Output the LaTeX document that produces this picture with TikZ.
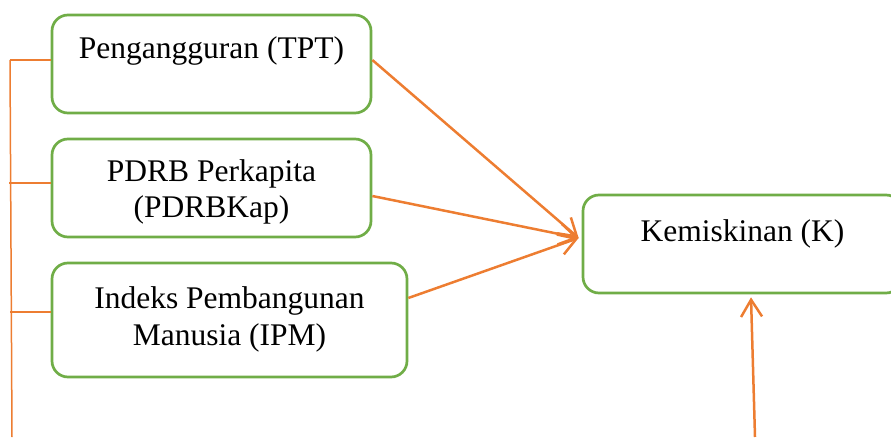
\documentclass[tikz,border=0pt]{standalone}
\usepackage{fontspec}
\setmainfont{Liberation Serif}
\usepackage{xcolor}
\usetikzlibrary{shapes,arrows,positioning,calc,arrows.meta}
\definecolor{boxgreen}{HTML}{70AD47}
\definecolor{linkorange}{HTML}{ED7D31}

\begin{document}
\begin{tikzpicture}[x=1pt, y=1pt,
    varbox/.style={draw=boxgreen, line width=2.7pt, rounded corners=16pt, align=center,
        inner sep=0pt, minimum width=319pt, minimum height=98pt,
        font=\fontsize{31.5}{36.5}\selectfont},
    link/.style={draw=linkorange, line width=2.5pt, -{Straight Barb[length=17pt,width=21pt]}},
    branch/.style={draw=linkorange, line width=1.5pt}]
    \useasboundingbox (0,0) rectangle (891,437);

    % Independent variables
    \node [varbox, text height=22pt, text depth=32pt] (tpt) at (211.5,373) {Pengangguran (TPT)};
    \node [varbox, text height=68pt, text depth=8pt] (pdrb) at (211.5,249) {PDRB Perkapita\\(PDRBKap)};
    \node [varbox, text height=58pt, text depth=8pt, minimum width=355pt, minimum height=114pt] (ipm) at (229.5,117) {Indeks Pembangunan\\Manusia (IPM)};

    % Dependent variable
    \node [varbox, text height=22pt, text depth=28pt] (kem) at (742.5,193) {Kemiskinan (K)};

    % Partial effects
    \coordinate (hit) at ([shift={(-3,6)}]kem.west);
    \draw [link] ([yshift=4pt]tpt.east) -- (hit);
    \draw [link] ([yshift=-8pt]pdrb.east) -- (hit);
    \draw [link] ([yshift=22pt]ipm.east) -- (hit);

    % Joint effect
    \coordinate (bus top) at (10,377);
    \coordinate (bus end) at (12,0);
    \coordinate (joint end) at (755,0);
    \draw [branch] (bus top) -- (bus end);
    \draw [branch] ([yshift=4pt]tpt.west) -- (bus top);
    \draw [branch] ([yshift=5pt]pdrb.west) -- ++(-41.5,0);
    \draw [branch] ([yshift=8pt]ipm.west) -- ++(-41,0);
    \draw [link] (joint end) -- ([shift={(8.5,-3)}]kem.south);
\end{tikzpicture}
\end{document}
